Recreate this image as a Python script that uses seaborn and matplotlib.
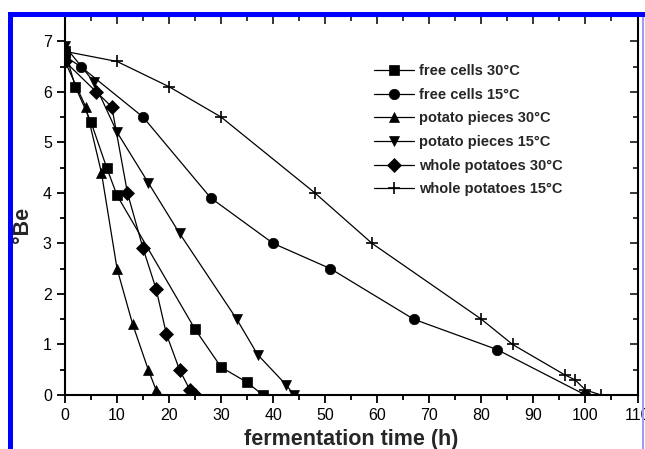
import numpy as np
import pandas as pd
import matplotlib
matplotlib.use("Agg")
import matplotlib.pyplot as plt
from matplotlib.ticker import MultipleLocator
from matplotlib.patches import Rectangle
import seaborn as sns

# data
fc30_x = [0, 2, 5, 8, 10, 25, 30, 35, 38]
fc30_y = [6.8, 6.1, 5.4, 4.5, 3.95, 1.3, 0.55, 0.25, 0]

fc15_x = [0, 3, 15, 28, 40, 51, 67, 83, 100]
fc15_y = [6.7, 6.5, 5.5, 3.9, 3.0, 2.5, 1.5, 0.9, 0]

pp30_x = [0, 4, 7, 10, 13, 16, 17.5, 18]
pp30_y = [6.6, 5.7, 4.4, 2.5, 1.4, 0.5, 0.1, 0]

pp15_x = [0, 5.5, 10, 16, 22, 33, 37, 42.5, 44]
pp15_y = [6.9, 6.2, 5.2, 4.2, 3.2, 1.5, 0.8, 0.2, 0]

wp30_x = [0, 6, 9, 12, 15, 17.5, 19.5, 22, 24, 25]
wp30_y = [6.6, 6.0, 5.7, 4.0, 2.9, 2.1, 1.2, 0.5, 0.1, 0]

wp15_x = [0, 10, 20, 30, 48, 59, 80, 86, 96, 98, 100, 103]
wp15_y = [6.8, 6.6, 6.1, 5.5, 4.0, 3.0, 1.5, 1.0, 0.4, 0.3, 0.1, 0]

series = [
    ("free cells 30\u00b0C", fc30_x, fc30_y, "s"),
    ("free cells 15\u00b0C", fc15_x, fc15_y, "o"),
    ("potato pieces 30\u00b0C", pp30_x, pp30_y, "^"),
    ("potato pieces 15\u00b0C", pp15_x, pp15_y, "v"),
    ("whole potatoes 30\u00b0C", wp30_x, wp30_y, "D"),
    ("whole potatoes 15\u00b0C", wp15_x, wp15_y, "+"),
]

sns.set_theme(style="ticks")
plt.rcParams["font.family"] = ["Liberation Sans", "DejaVu Sans"]

fig = plt.figure(figsize=(6.45, 4.49), dpi=100)
ax = fig.add_axes([65 / 645, 1 - 395 / 449, 572.5 / 645, 379 / 449])

msizes = {"s": 7, "o": 7.5, "^": 7.5, "v": 7.5, "D": 7.5, "+": 8}
for name, xs, ys, mk in series:
    df = pd.DataFrame({"x": xs, "y": ys})
    sns.lineplot(data=df, x="x", y="y", ax=ax, color="black", linewidth=0.9,
                 marker=mk, markersize=msizes[mk], markeredgecolor="black",
                 markeredgewidth=1.2 if mk == "+" else 0.5, label=name)

ax.set_xlim(0, 110)
ax.set_ylim(0, 7.5)
ax.xaxis.set_major_locator(MultipleLocator(10))
ax.xaxis.set_minor_locator(MultipleLocator(5))
ax.yaxis.set_major_locator(MultipleLocator(1))
ax.yaxis.set_minor_locator(MultipleLocator(0.5))
ax.set_yticks(range(0, 8))
ax.tick_params(which="both", direction="out", width=1.3, colors="black",
               labelsize=11.5, top=False, right=False)
ax.tick_params(which="major", length=6)
ax.tick_params(which="minor", length=3.5)
for s in ax.spines.values():
    s.set_linewidth(1.5)
    s.set_color("black")

# mirrored top/right ticks pointing inward
axt = ax.secondary_xaxis("top")
axt.xaxis.set_major_locator(MultipleLocator(10))
axt.xaxis.set_minor_locator(MultipleLocator(5))
axt.tick_params(which="both", direction="in", width=1.3, labeltop=False)
axt.tick_params(which="major", length=6)
axt.tick_params(which="minor", length=3.5)
axr = ax.secondary_yaxis("right")
axr.yaxis.set_major_locator(MultipleLocator(1))
axr.yaxis.set_minor_locator(MultipleLocator(0.5))
axr.tick_params(which="both", direction="in", width=1.3, labelright=False)
axr.tick_params(which="major", length=6)
axr.tick_params(which="minor", length=3.5)

ax.set_xlabel("fermentation time (h)", fontsize=15.5, fontweight="bold", labelpad=4)
ax.set_ylabel("\u00b0Be", fontsize=15.5, fontweight="bold", labelpad=4)
ax.yaxis.set_label_coords(-0.056, 0.45)

ax.legend(loc="upper left", bbox_to_anchor=(0.540, 0.873), frameon=False,
          prop={"weight": "bold", "size": 10.5},
          handlelength=2.75, handletextpad=0.3, labelspacing=0.66,
          borderpad=0, borderaxespad=0)

# blue selection border of the screenshot
fig.add_artist(Rectangle((8 / 645, 0), 4.5 / 645, 1 - 12 / 449, transform=fig.transFigure,
                         facecolor="#0000ff", edgecolor="none", zorder=10))
fig.add_artist(Rectangle((8 / 645, 1 - 17 / 449), 637 / 645, 5 / 449, transform=fig.transFigure,
                         facecolor="#0000ff", edgecolor="none", zorder=10))
fig.add_artist(Rectangle((642 / 645, 0), 1.5 / 645, 1 - 17 / 449, transform=fig.transFigure,
                         facecolor="#9999ff", edgecolor="none", zorder=10))

fig.savefig("out.png", dpi=100)
